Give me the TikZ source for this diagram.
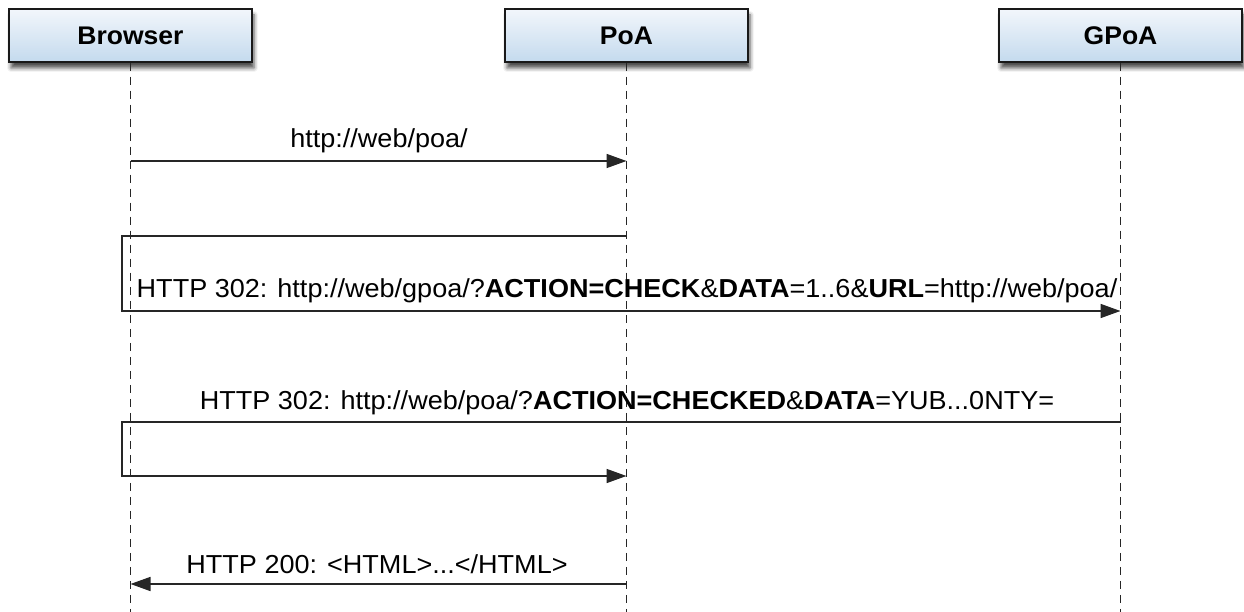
\documentclass[tikz,border=0pt]{standalone}
\usepackage{fontspec}
\newfontfamily\lblfont{Liberation Sans}[FakeStretch=1.04]
\usetikzlibrary{arrows.meta,shadows.blur}
\definecolor{boxtop}{RGB}{242,246,251}
\definecolor{boxbot}{RGB}{196,218,238}
\tikzset{
  actor/.style={draw=black!90, line width=1.5pt, minimum width=243pt, minimum height=53pt,
    top color=boxtop, bottom color=boxbot,
    blur shadow={shadow xshift=2pt, shadow yshift=-6pt, shadow blur radius=4pt, shadow opacity=70},
    font=\lblfont\bfseries\fontsize{25.5}{30}\selectfont},
  lifeline/.style={draw=black!85, line width=1.1pt, dash pattern=on 8pt off 6pt},
  msg/.style={draw=black!85, line width=1.6pt, -{Triangle[length=20pt,width=14pt]}},
  msglbl/.style={anchor=base, inner sep=0pt, font=\lblfont\fontsize{26}{30}\selectfont}
}
\begin{document}
\begin{tikzpicture}[x=1pt,y=-1pt]
\useasboundingbox (0,0) rectangle (1244,612);

% participants
\node[actor] (browser) at (130.5,35.5) {Browser};
\node[actor] (poa)     at (626.5,35.5) {PoA};
\node[actor] (gpoa)    at (1120.5,35.5) {GPoA};

% lifeline ends
\coordinate (browser-end) at (browser.south |- 0,612);
\coordinate (poa-end)     at (poa.south |- 0,612);
\coordinate (gpoa-end)    at (gpoa.south |- 0,612);

\draw[lifeline] (browser.south) -- (browser-end);
\draw[lifeline] (poa.south) -- (poa-end);
\draw[lifeline] (gpoa.south) -- (gpoa-end);

% message points on the lifelines
\coordinate (b1) at (browser.south |- 0,161);
\coordinate (p1) at (poa.south |- 0,161);
\coordinate (p2) at (poa.south |- 0,236);
\coordinate (g2) at (gpoa.south |- 0,311);
\coordinate (g3) at (gpoa.south |- 0,422);
\coordinate (p3) at (poa.south |- 0,476);
\coordinate (p4) at (poa.south |- 0,584);
\coordinate (b4) at (browser.south |- 0,584);

% detour corners left of the browser lifeline
\coordinate (c2a) at (122,236);
\coordinate (c2b) at (122,311);
\coordinate (c3a) at (122,422);
\coordinate (c3b) at (122,476);

% messages
\draw[msg] (b1) -- (p1);
\node[msglbl] (m1) at (379,148) {http://web/poa/};

\draw[msg] (p2) -- (c2a) -- (c2b) -- (g2);
\node[msglbl] (m2) at (627,298) {HTTP 302: http://web/gpoa/?\textbf{ACTION=CHECK}\&\textbf{DATA}=1..6\&\textbf{URL}=http://web/poa/};

\draw[msg] (g3) -- (c3a) -- (c3b) -- (p3);
\node[msglbl] (m3) at (627,409) {HTTP 302: http://web/poa/?\textbf{ACTION=CHECKED}\&\textbf{DATA}=YUB...0NTY=};

\draw[msg] (p4) -- (b4);
\node[msglbl] (m4) at (377,573) {HTTP 200: <HTML>...</HTML>};
\end{tikzpicture}
\end{document}
